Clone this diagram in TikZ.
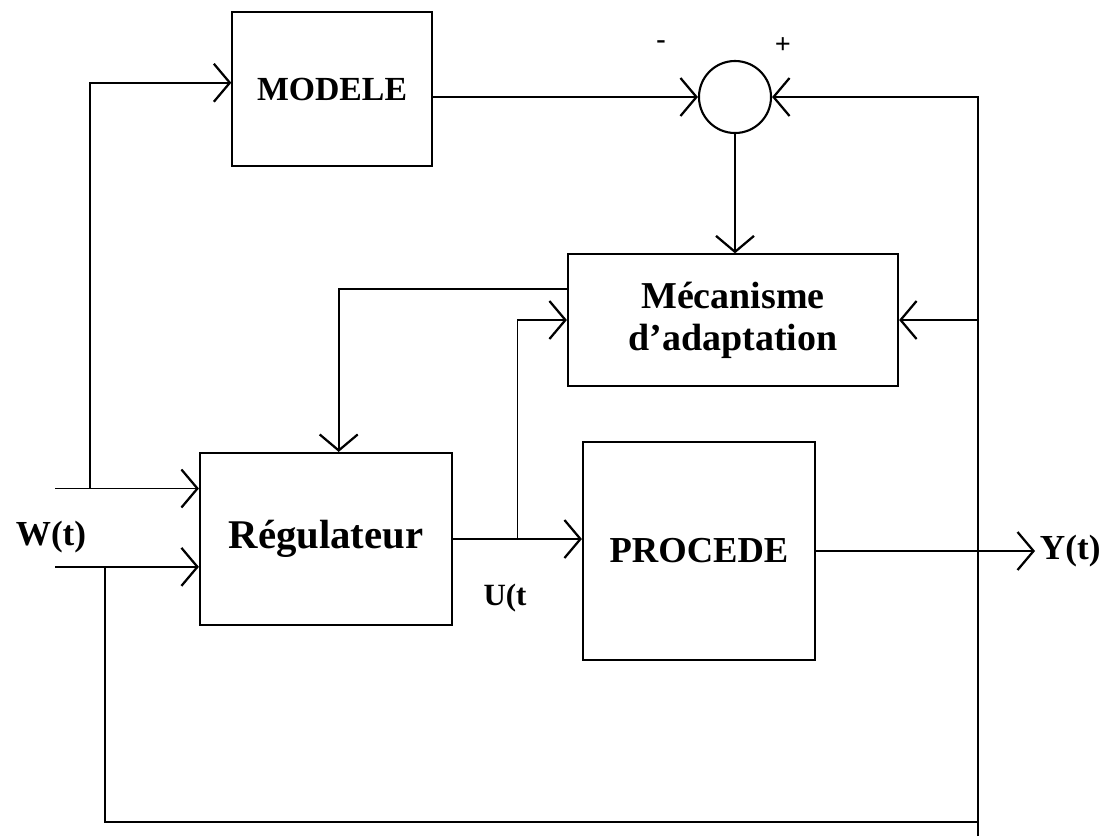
\documentclass[tikz,border=0pt]{standalone}
\usepackage{fontspec}
\setmainfont{Liberation Serif}
\usepackage{tikz}
\usetikzlibrary{calc,arrows.meta}
\definecolor{ink}{HTML}{000000}
\tikzset{
  blocBox/.style={draw=ink, line width=1.5pt, inner sep=0pt, align=center, font=\bfseries\fontsize{27}{30}\selectfont},
  sumCircle/.style={draw=ink, line width=1.5pt, circle, minimum size=1.8cm, inner sep=0pt},
  sigLine/.style={draw=ink, line width=1.4pt},
  sigArrow/.style={sigLine, -{Straight Barb[length=0.4cm, width=0.95cm, line width=1.6pt]}},
  sigLabel/.style={text=ink, font=\bfseries\fontsize{25}{28}\selectfont},
  signLabel/.style={text=ink, font=\bfseries\fontsize{20}{22}\selectfont}
}

\begin{document}
\begin{tikzpicture}[x=0.025cm, y=-0.025cm]
  \useasboundingbox (0,0) rectangle (1117,838);

  \node[blocBox, minimum width=4.98cm, minimum height=3.85cm, font=\bfseries\fontsize{24}{28}\selectfont] (modele) at (332,89) {MODELE};
  \node[sumCircle] (somme) at (735,97) {};
  \node[blocBox, minimum width=8.25cm, minimum height=3.28cm] (meca) at (733,320) {Mécanisme\\d’adaptation};
  \node[blocBox, minimum width=6.3cm, minimum height=4.3cm, font=\bfseries\fontsize{29}{32}\selectfont] (reg) at (326,539) {Régulateur};
  \node[blocBox, minimum width=5.8cm, minimum height=5.43cm, font=\bfseries\fontsize{26}{30}\selectfont] (proc) at (699,551) {PROCEDE};

  \node[signLabel] (moins) at (661,45) {-};
  \node[signLabel] (plus) at (783,46) {+};
  \node[sigLabel] (wlab) at (51,537) {W(t)};
  \node[sigLabel, font=\bfseries\fontsize{22}{26}\selectfont] (ulab) at (505,598) {U(t};
  \node[sigLabel, anchor=west] (ylab) at (1035,551) {Y(t)};

  \coordinate (modIn) at ($(modele.north west)!0.46!(modele.south west)$);
  \coordinate (in1) at ($(reg.north west)!0.21!(reg.south west)$);
  \coordinate (in2) at ($(reg.north west)!0.66!(reg.south west)$);
  \coordinate (in3) at ($(reg.north west)!0.55!(reg.north east)$);
  \coordinate (mecaOut) at ($(meca.north west)!0.27!(meca.south west)$);
  \coordinate (uBranche) at ($(reg.east)!0.5!(reg.east -| proc.west)$);
  \coordinate (wEntree) at (55,528);
  \coordinate (wBranche) at (90,528);
  \coordinate (wBas) at (105,822);
  \coordinate (fbBas) at (978,822);
  \coordinate (fbFin) at (978,836);

  \draw[sigArrow] (wEntree |- in1) -- (in1);
  \draw[sigArrow] (wEntree |- in2) -- (in2);
  \draw[sigArrow] (wBranche |- in1) -- (wBranche |- modIn) -- (modIn);
  \draw[sigArrow] (modele.east |- somme.west) -- (somme.west);
  \draw[sigArrow] (somme.south) -- (somme.south |- meca.north);
  \draw[sigArrow] (fbFin) -- (fbBas |- somme.east) -- (somme.east);
  \draw[sigArrow] (fbBas |- meca.east) -- (meca.east);
  \draw[sigLine] (fbBas) -- (wBas) -- (wBas |- in2);
  \draw[sigArrow] (mecaOut) -| (in3);
  \draw[sigArrow] (reg.east) -- (reg.east -| proc.west);
  \draw[sigArrow] (uBranche) |- (meca.west);
  \draw[sigArrow] (proc.east) -- (proc.east -| ylab.west);
\end{tikzpicture}
\end{document}
